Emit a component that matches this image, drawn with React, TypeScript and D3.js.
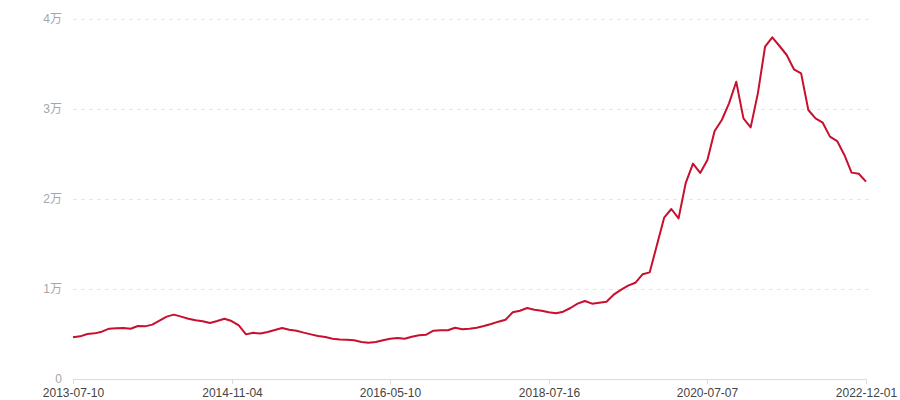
import React from "react";
import * as d3 from "d3";

// tick labels shown on the category axis (every 22nd point)
const tickLabels = ["2013-07-10", "2014-11-04", "2016-05-10", "2018-07-16", "2020-07-07", "2022-12-01"];
const tickEvery = 22;

// series values
const values = [
  4630, 4740, 5000, 5070, 5260, 5590, 5630, 5670, 5590, 5890,
  5850, 6040, 6480, 6930, 7150, 6930, 6700, 6520, 6410, 6220,
  6440, 6700, 6440, 5960, 4960, 5130, 5050, 5220, 5440, 5670,
  5480, 5370, 5150, 4960, 4780, 4670, 4480, 4400, 4370, 4300,
  4110, 4040, 4110, 4300, 4480, 4560, 4480, 4700, 4850, 4930,
  5370, 5430, 5410, 5700, 5520, 5590, 5700, 5890, 6110, 6370,
  6590, 7410, 7590, 7890, 7700, 7590, 7410, 7300, 7480, 7890,
  8370, 8670, 8370, 8480, 8590, 9370, 9900, 10380, 10690, 11630,
  11850, 14890, 17930, 18890, 17850, 21800, 23930, 22900, 24330, 27560,
  28780, 30630, 33030, 28960, 27960, 31740, 36920, 37960, 37000, 36000,
  34410, 33960, 29890, 28960, 28480, 26930, 26440, 24890, 22930, 22810,
  21930,
];

const yTicks = [0, 10000, 20000, 30000, 40000];
const yTickLabels = ["0", "1万", "2万", "3万", "4万"];

const W = 900;
const H = 400;
const grid = { left: 73, right: 34, top: 19, bottom: 21 };

const App = () => {
  const x = d3
    .scaleLinear()
    .domain([0, values.length - 1])
    .range([grid.left, W - grid.right]);
  const y = d3
    .scaleLinear()
    .domain([0, 40000])
    .range([H - grid.bottom, grid.top]);

  const line = d3
    .line<number>()
    .x((_, i) => x(i))
    .y((d) => y(d));

  // Liberation Sans keeps the label boxes tight; 万 falls back to the CJK face
  const font = "'Liberation Sans', 'Noto Sans CJK SC', sans-serif";

  return (
    <svg
      width={W}
      height={H}
      style={{ position: "absolute", left: 0, top: 0, display: "block" }}
    >
      {/* grid */}
      {yTicks.slice(1).map((t) => (
        <line
          key={t}
          x1={x(0)}
          x2={x(values.length - 1) + 4}
          y1={y(t) + 0.5}
          y2={y(t) + 0.5}
          stroke="#e6e6e6"
          strokeDasharray="4,4"
        />
      ))}
      {/* y labels */}
      {yTicks.map((t, i) => (
        <text
          key={"yl" + t}
          x={x(0) - 11}
          y={y(t) + 4.2}
          textAnchor="end"
          fontSize={12}
          fill="#a6a6a6"
          fontFamily={font}
        >
          {yTickLabels[i]}
        </text>
      ))}
      {/* x axis */}
      <line x1={x(0)} x2={x(values.length - 1)} y1={y(0) + 0.5} y2={y(0) + 0.5} stroke="#dcdcdc" />
      {tickLabels.map((lab, k) => (
        <g key={lab} transform={`translate(${Math.round(x(k * tickEvery)) + 0.5},${y(0)})`}>
          <line y1={0} y2={5} stroke="#dcdcdc" />
          <text y={18.3} textAnchor="middle" fontSize={12} fill="#444" fontFamily={font}>
            {lab}
          </text>
        </g>
      ))}
      {/* series */}
      <path d={line(values) ?? ""} fill="none" stroke="#c8102e" strokeWidth={2} strokeLinejoin="round" />
    </svg>
  );
};

export default App;
